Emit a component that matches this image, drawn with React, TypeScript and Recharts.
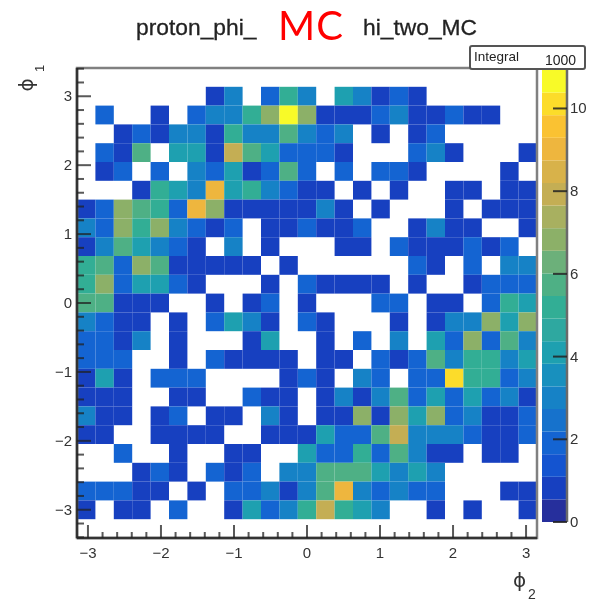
import React from "react";
import {
  Bar,
  BarChart,
  ReferenceArea,
  Scatter,
  ScatterChart,
  XAxis,
  YAxis,
} from "recharts";

// phi_1 rows top to bottom, phi_2 columns left to right
const COUNTS: number[][] = [
  [0,0,0,0,0,0,0,0,0,0,0,0,0,0,0,0,0,0,0,0,0,0,0,0,0],
  [0,0,0,0,0,0,0,1,3,0,2,5,3,0,4,3,1,2,1,0,0,0,0,0,0],
  [0,2,0,0,1,0,2,3,3,5,7,11,7,1,1,1,2,3,1,1,2,1,1,0,0],
  [0,0,1,2,1,3,3,1,5,3,3,6,3,2,3,0,1,0,1,2,0,0,0,0,0],
  [0,2,1,6,0,4,4,1,8,6,4,2,2,2,1,0,0,0,2,3,1,0,0,0,1],
  [0,1,2,0,2,0,3,2,4,1,2,6,2,0,2,0,2,2,1,0,0,0,0,1,0],
  [0,0,0,1,5,4,3,9,4,5,3,2,1,1,0,1,0,1,0,0,1,1,0,1,1],
  [1,2,7,6,5,2,9,7,1,1,1,1,1,3,1,0,1,0,0,0,1,0,1,1,1],
  [3,2,7,5,7,3,2,1,2,0,1,1,2,1,1,2,0,0,1,3,1,1,0,0,1],
  [1,3,6,4,3,2,1,0,3,0,1,0,0,0,1,1,0,2,1,1,1,2,1,2,0],
  [5,6,2,7,6,1,1,1,1,1,0,1,0,0,0,0,0,0,2,1,0,2,0,3,3],
  [5,7,2,4,4,2,1,0,0,0,1,0,2,1,1,1,1,0,1,0,0,1,2,2,2],
  [6,6,1,1,1,0,0,1,0,1,2,0,1,0,0,0,2,2,0,1,1,0,2,5,4],
  [3,2,1,1,0,1,0,2,4,3,1,0,2,1,0,0,0,1,0,1,3,3,7,4,7],
  [2,2,1,3,0,1,0,0,0,1,4,0,0,1,0,2,0,3,0,4,2,7,2,6,3],
  [2,2,2,0,0,1,0,2,1,1,1,1,0,1,1,0,2,1,2,6,3,5,5,3,4],
  [1,4,1,0,2,2,2,0,0,0,0,1,2,1,0,3,2,0,2,2,10,5,5,2,3],
  [1,1,1,0,0,1,1,0,0,2,1,1,0,1,3,1,3,6,2,4,2,4,2,3,1],
  [3,1,1,0,1,2,0,1,1,0,3,1,0,1,1,7,1,7,4,7,2,3,1,1,2],
  [1,1,0,0,1,1,1,1,0,0,1,1,1,4,2,2,6,8,3,3,3,2,1,1,2],
  [0,0,2,0,0,1,0,0,1,1,0,0,4,2,2,5,2,6,3,1,1,0,1,1,0],
  [0,0,0,1,2,1,0,2,1,2,0,3,3,6,6,6,4,3,4,3,0,0,0,0,0],
  [2,2,2,1,1,0,1,0,2,2,3,1,3,6,9,3,2,3,2,2,0,0,0,1,1],
  [1,0,1,1,0,2,0,0,1,4,2,3,5,8,5,4,3,0,0,1,0,1,0,0,1],
  [0,0,0,0,0,0,0,0,0,0,0,0,0,0,0,0,0,0,0,0,0,0,0,0,0],
];

// palette bands of the z scale, bottom to top
const BAND_COLORS = [
  "#262f9c", "#1740c0", "#1454d0", "#1464d2", "#1672cc",
  "#1682c6", "#1890be", "#1ea0b0", "#2ea8a0", "#32ae95",
  "#4eb085", "#6cb07a", "#8cb068", "#a8b060", "#c4ae54",
  "#d8b24a", "#eeb63e", "#fac232", "#fcdc2a", "#f8fa28",
];

const PHI2_RANGE = 3.15;
const PHI1_RANGE = 3.41;
const Z_MAX = 10.93;
const X_TICKS = [-3, -2.8, -2.6, -2.4, -2.2, -2, -1.8, -1.6, -1.4, -1.2, -1, -0.8, -0.6, -0.4, -0.2, 0, 0.2, 0.4, 0.6, 0.8, 1, 1.2, 1.4, 1.6, 1.8, 2, 2.2, 2.4, 2.6, 2.8, 3];
const Y_TICKS = [-3.4, -3.2, ...X_TICKS, 3.2, 3.4];
const Z_TICKS = [0, 2, 4, 6, 8, 10];

const W = 615;
const H = 606;
const PLOT = { left: 77, right: 537, top: 68, bottom: 538 };
const BAR = { left: 542, right: 567, top: 70, bottom: 522 };
const FONT = '"Liberation Sans", Arial, sans-serif';
const TEXT = "#333";

const nCols = COUNTS[0].length;
const nRows = COUNTS.length;
const cellW = (PLOT.right - PLOT.left) / nCols;
const cellH = (PLOT.bottom - PLOT.top) / nRows;

const bandColor = (v: number) =>
  BAND_COLORS[Math.min(BAND_COLORS.length - 1, Math.floor((v / Z_MAX) * BAND_COLORS.length))];

const cells = COUNTS.flatMap((row, r) =>
  row.flatMap((count, c) =>
    count > 0
      ? [{
          phi2: -PHI2_RANGE + ((c + 0.5) * 2 * PHI2_RANGE) / nCols,
          phi1: PHI1_RANGE - ((r + 0.5) * 2 * PHI1_RANGE) / nRows,
          count,
        }]
      : [],
  ),
);

const bandRow = [
  Object.fromEntries(BAND_COLORS.map((_, i) => [`b${i}`, Z_MAX / BAND_COLORS.length])),
];

const fmt = (v: number) => (v < 0 ? `\u2212${-v}` : `${v}`);

function CellShape(props: any) {
  const { cx, cy, payload } = props;
  return (
    <rect
      x={cx - cellW / 2}
      y={cy - cellH / 2}
      width={cellW}
      height={cellH}
      fill={bandColor(payload.count)}
    />
  );
}

function XTick({ x, y, payload }: any) {
  const major = Number.isInteger(payload.value);
  return (
    <g>
      <line x1={x} x2={x} y1={y} y2={y - (major ? 13 : 6)} stroke="#222" strokeOpacity={0.75} strokeWidth={2} />
      {major && (
        <text x={x} y={y + 20} textAnchor="middle" fontFamily={FONT} fontSize={15} fill={TEXT}>
          {fmt(payload.value)}
        </text>
      )}
    </g>
  );
}

function YTick({ x, y, payload }: any) {
  const major = Number.isInteger(payload.value);
  return (
    <g>
      <line x1={x} x2={x + (major ? 14 : 7)} y1={y} y2={y} stroke="#222" strokeOpacity={0.75} strokeWidth={2} />
      {major && (
        <text x={x - 5} y={y + 5} textAnchor="end" fontFamily={FONT} fontSize={15} fill={TEXT}>
          {fmt(payload.value)}
        </text>
      )}
    </g>
  );
}

function ZTick({ x, y, payload }: any) {
  return (
    <g>
      <line x1={x - 14} x2={x} y1={y} y2={y} stroke="#222" strokeOpacity={0.85} strokeWidth={2} />
      <text x={x + 3} y={y + 5} fontFamily={FONT} fontSize={15} fill={TEXT}>
        {payload.value}
      </text>
    </g>
  );
}

const layer: React.CSSProperties = { position: "absolute", left: 0, top: 0 };
const label = (left: number, top: number, fontSize: number, extra?: React.CSSProperties): React.CSSProperties => ({
  position: "absolute",
  left,
  top,
  fontSize,
  lineHeight: 1.3,
  whiteSpace: "nowrap",
  fontFamily: FONT,
  color: "#222",
  ...extra,
});

export default function App() {
  const plotMargin = { top: PLOT.top, right: W - PLOT.right, bottom: H - PLOT.bottom, left: PLOT.left };
  const barMargin = { top: BAR.top, right: W - BAR.right, bottom: H - BAR.bottom, left: BAR.left };
  return (
    <div style={{ position: "absolute", left: 0, top: 0, width: W, height: H, background: "#fff", overflow: "hidden", filter: "blur(0.5px)" }}>
      {/* cells */}
      <div style={layer}>
        <ScatterChart width={W} height={H} margin={plotMargin}>
          <XAxis hide type="number" dataKey="phi2" domain={[-PHI2_RANGE, PHI2_RANGE]} />
          <YAxis hide type="number" dataKey="phi1" domain={[-PHI1_RANGE, PHI1_RANGE]} />
          <Scatter data={cells} shape={CellShape} isAnimationActive={false} />
        </ScatterChart>
      </div>

      {/* frame and ticks go in their own layer, ROOT draws them over the cells */}
      <div style={layer}>
        <ScatterChart width={W} height={H} margin={{ ...plotMargin, bottom: 0, left: 0 }}>
          <ReferenceArea
            x1={-PHI2_RANGE}
            x2={PHI2_RANGE}
            y1={-PHI1_RANGE}
            y2={PHI1_RANGE}
            fill="none"
            stroke="#808080"
            strokeWidth={2.5}
          />
          <XAxis
            type="number"
            dataKey="phi2"
            domain={[-PHI2_RANGE, PHI2_RANGE]}
            ticks={X_TICKS}
            interval={0}
            height={H - PLOT.bottom}
            tickSize={0}
            tickMargin={0}
            tickLine={false}
            tick={XTick}
            axisLine={{ stroke: "#333", strokeWidth: 2.5 }}
          />
          <YAxis
            type="number"
            dataKey="phi1"
            domain={[-PHI1_RANGE, PHI1_RANGE]}
            ticks={Y_TICKS}
            interval={0}
            width={PLOT.left}
            tickSize={0}
            tickMargin={0}
            tickLine={false}
            tick={YTick}
            axisLine={{ stroke: "#333", strokeWidth: 2.5 }}
          />
          {/* axes need a series to draw their ticks */}
          <Scatter data={cells} shape={() => <g />} isAnimationActive={false} />
        </ScatterChart>
      </div>

      {/* colour scale */}
      <div style={layer}>
        <BarChart width={W} height={H} data={bandRow} barCategoryGap={0} margin={barMargin}>
          <XAxis hide />
          <YAxis hide type="number" domain={[0, Z_MAX]} />
          {BAND_COLORS.map((color, i) => (
            <Bar key={color} dataKey={`b${i}`} stackId="z" fill={color} isAnimationActive={false} />
          ))}
        </BarChart>
      </div>
      <div style={layer}>
        <BarChart width={W} height={H} data={bandRow} margin={{ ...barMargin, right: 0 }}>
          <XAxis hide />
          <YAxis
            orientation="right"
            type="number"
            domain={[0, Z_MAX]}
            ticks={Z_TICKS}
            interval={0}
            width={W - BAR.right}
            tickSize={0}
            tickMargin={0}
            tickLine={false}
            tick={ZTick}
            axisLine={{ stroke: "#6a6a6a", strokeWidth: 2.5 }}
          />
          <Bar dataKey="b0" fill="none" isAnimationActive={false} />
        </BarChart>
      </div>

      <div
        style={{
          position: "absolute",
          left: 469,
          top: 45,
          width: 113,
          height: 21,
          border: "2px solid #555",
          borderRadius: 3,
          background: "#fff",
        }}
      />
      <span style={label(474, 48, 13.5)}>Integral</span>
      <span style={label(545, 51, 14)}>1000</span>

      <span style={label(136, 13, 22.8, { WebkitTextStroke: "0.3px #222" })}>proton_phi_</span>
      <span style={label(363, 13, 22.8, { WebkitTextStroke: "0.3px #222" })}>hi_two_MC</span>
      <svg width={W} height={60} style={layer}>
        <text x={278} y={40} fontFamily="Lato" fontSize={40} letterSpacing={1} fill="#ff0000">MC</text>
      </svg>

      <span style={label(513, 567, 20, { fontFamily: '"DejaVu Sans"', color: "#333" })}>{"\u03D5"}</span>
      <span style={label(528, 585, 14, { color: "#333" })}>2</span>
      <span style={label(19, 72, 20, { fontFamily: '"DejaVu Sans"', color: "#333", transform: "rotate(-90deg)" })}>{"\u03D5"}</span>
      <span style={label(37, 60, 13, { color: "#333", transform: "rotate(-90deg)" })}>1</span>
    </div>
  );
}
